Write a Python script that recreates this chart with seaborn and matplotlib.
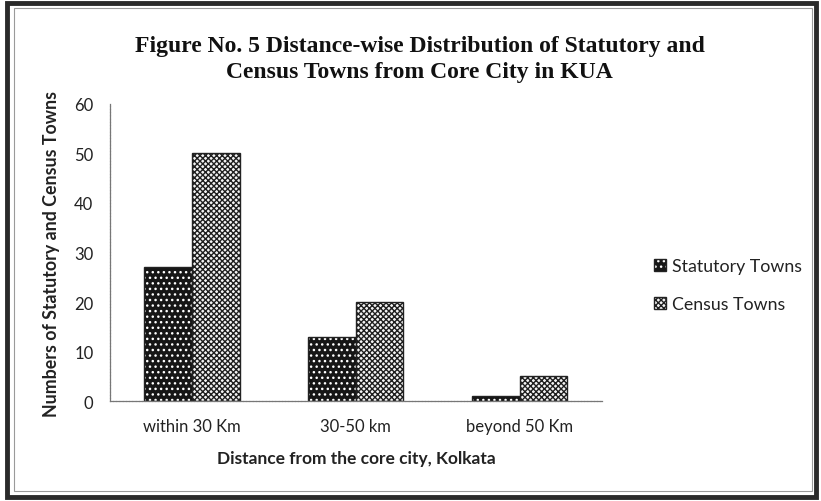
import matplotlib
matplotlib.use("Agg")
import matplotlib.pyplot as plt
from matplotlib.patches import Rectangle, Patch
import seaborn as sns
import pandas as pd

categories = ["within 30 Km", "30-50 km", "beyond 50 Km"]
statutory = [27, 13, 1]
census = [50, 20, 5]
series_names = ["Statutory Towns", "Census Towns"]
y_ticks = [0, 10, 20, 30, 40, 50, 60]

df = pd.DataFrame({
    "Distance": categories * 2,
    "Towns": statutory + census,
    "Type": [series_names[0]] * 3 + [series_names[1]] * 3,
})

sns.set_theme(style="white")
plt.rcParams["font.family"] = ["Lato", "DejaVu Sans"]
plt.rcParams["hatch.linewidth"] = 1.0

fig = plt.figure(figsize=(8.21, 5.02), dpi=100)
ax = fig.add_axes([0.134, 0.199, 0.599, 0.592])

sns.barplot(data=df, x="Distance", y="Towns", hue="Type", order=categories,
            hue_order=series_names, width=0.58, palette=["#161616", "#ffffff"],
            edgecolor="#222222", linewidth=1.0, legend=False, ax=ax, saturation=1)

styles = {
    series_names[0]: dict(face="#161616", hatch="...", hcolor=(1, 1, 1, 1)),
    series_names[1]: dict(face="#f4f4f4", hatch="xxxxxx", hcolor=(0.12, 0.12, 0.12, 1)),
}
n = len(categories)
for i, p in enumerate(ax.patches[: 2 * n]):
    st = styles[series_names[i // n]]
    p.set_facecolor(st["face"])
    p.set_hatch(st["hatch"])
    p.set_edgecolor("#222222")
    p._hatch_color = st["hcolor"]

ax.set_ylim(0, 60)
ax.set_yticks(y_ticks)
ax.tick_params(axis="both", length=0, labelsize=12, colors="#222222")
ax.tick_params(axis="y", pad=12)
ax.tick_params(axis="x", pad=12)
for s in ["top", "right"]:
    ax.spines[s].set_visible(False)
for s in ["left", "bottom"]:
    ax.spines[s].set_color("#777777")
    ax.spines[s].set_linewidth(0.9)
    ax.spines[s].set_linestyle((0, (2, 0.6)))

ax.set_xlabel("Distance from the core city, Kolkata", fontsize=12.5,
              fontweight="bold", color="#222222", labelpad=12)
ax.set_ylabel("Numbers of Statutory and Census Towns", fontsize=12.8,
              fontweight="bold", color="#222222", labelpad=10)

# legend handles reuse the bar styles
handles = []
for name in series_names:
    st = styles[name]
    h = Patch(facecolor=st["face"], edgecolor="#222222", hatch=st["hatch"], label=name)
    h._hatch_color = st["hcolor"]
    handles.append(h)
leg = fig.legend(handles=handles, loc="center left", bbox_to_anchor=(0.777, 0.43),
                 frameon=False, fontsize=12.8, handlelength=0.7, handleheight=0.7,
                 handletextpad=0.3, labelspacing=1.25, labelcolor="#222222")
for h, lh in zip(handles, leg.legend_handles):
    lh._hatch_color = h._hatch_color

fig.text(0.511, 0.907, "Figure No. 5 Distance-wise Distribution of Statutory and",
         ha="center", va="center", fontsize=17, fontweight="bold",
         family="Liberation Serif", color="#111111")
fig.text(0.511, 0.855, "Census Towns from Core City in KUA",
         ha="center", va="center", fontsize=17, fontweight="bold",
         family="Liberation Serif", color="#111111")

# page border
fig.patches.append(Rectangle((0.009, 0.008), 0.985, 0.984, transform=fig.transFigure,
                             fill=False, edgecolor="#2a2a2a", linewidth=3.5))
fig.patches.append(Rectangle((0.017, 0.02), 0.972, 0.962, transform=fig.transFigure,
                             fill=False, edgecolor="#9a9a9a", linewidth=0.8))

fig.savefig("out.png", dpi=100)
